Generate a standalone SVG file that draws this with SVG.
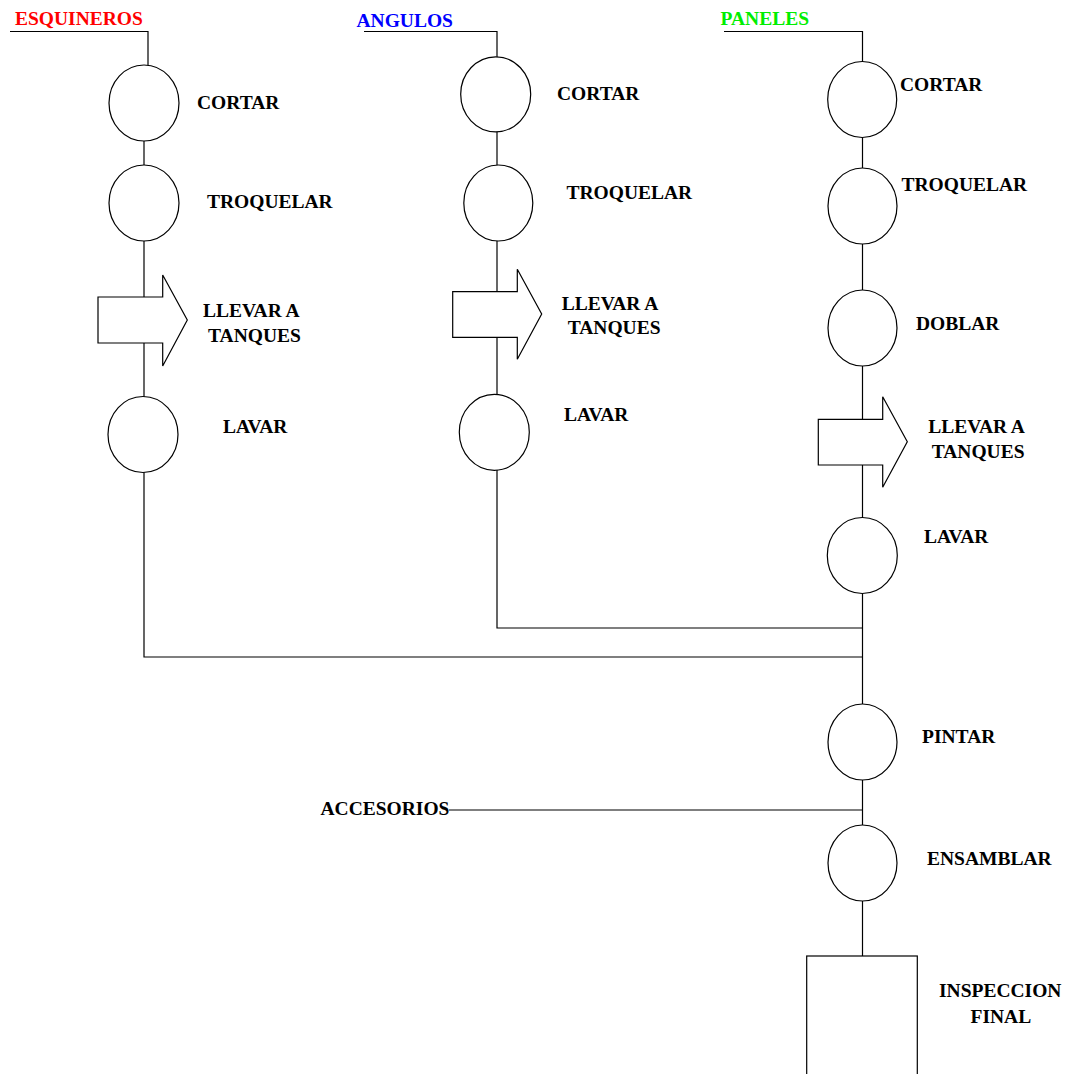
<svg xmlns="http://www.w3.org/2000/svg" width="1067" height="1074" viewBox="0 0 1067 1074">
  <style>
    .op { fill: #ffffff; stroke: #000000; stroke-width: 1.2; }
    .ln { fill: none; stroke: #000000; stroke-width: 1.2; }
    .lbl { font-family: "Liberation Serif", "Times New Roman", serif; font-weight: bold; font-size: 19.5px; fill: #000000; }
  </style>
  <rect x="0" y="0" width="1067" height="1074" fill="#ffffff"/>

  <!-- flow lines -->
  <g id="connectors">
    <!-- ESQUINEROS line -->
    <polyline class="ln" points="10,31.5 148,31.5 148,65"/>
    <line class="ln" x1="144" y1="141" x2="144" y2="165"/>
    <line class="ln" x1="144" y1="241" x2="144" y2="397"/>
    <polyline class="ln" points="144,472 144,657 862.5,657"/>
    <!-- ANGULOS line -->
    <polyline class="ln" points="364,31.5 497,31.5 497,57"/>
    <line class="ln" x1="497" y1="132" x2="497" y2="165"/>
    <line class="ln" x1="497" y1="241" x2="497" y2="394.5"/>
    <polyline class="ln" points="497,470 497,628 862.5,628"/>
    <!-- PANELES line -->
    <polyline class="ln" points="724,31.5 862.5,31.5 862.5,62"/>
    <line class="ln" x1="862.5" y1="137" x2="862.5" y2="168"/>
    <line class="ln" x1="862.5" y1="244" x2="862.5" y2="290"/>
    <line class="ln" x1="862.5" y1="366" x2="862.5" y2="518"/>
    <line class="ln" x1="862.5" y1="593" x2="862.5" y2="704"/>
    <line class="ln" x1="862.5" y1="780" x2="862.5" y2="825"/>
    <line class="ln" x1="862.5" y1="901" x2="862.5" y2="956"/>
    <!-- ACCESORIOS feed -->
    <line class="ln" x1="449" y1="810" x2="862.5" y2="810"/>
  </g>

  <!-- ESQUINEROS column -->
  <g id="esquineros">
    <text class="lbl" x="15" y="25" fill="#ff0000" style="fill:#ff0000">ESQUINEROS</text>
  </g>
  <g id="esq-cortar">
    <ellipse class="op" cx="144" cy="103" rx="35" ry="38"/>
    <text class="lbl" x="197" y="109">CORTAR</text>
  </g>
  <g id="esq-troquelar">
    <ellipse class="op" cx="144" cy="203" rx="35" ry="38"/>
    <text class="lbl" x="207" y="208">TROQUELAR</text>
  </g>
  <g id="esq-llevar">
    <polygon class="op" points="98,297 162.7,297 162.7,275 187.3,320 162.7,366 162.7,343 98,343"/>
    <text class="lbl" x="203" y="316.7">LLEVAR A</text>
    <text class="lbl" x="208" y="341.7">TANQUES</text>
  </g>
  <g id="esq-lavar">
    <ellipse class="op" cx="143" cy="434.5" rx="35" ry="38"/>
    <text class="lbl" x="223" y="433">LAVAR</text>
  </g>

  <!-- ANGULOS column -->
  <g id="angulos">
    <text class="lbl" x="356.5" y="26.5" style="fill:#0000ff">ANGULOS</text>
  </g>
  <g id="ang-cortar">
    <ellipse class="op" cx="495.7" cy="94.3" rx="35" ry="37.5"/>
    <text class="lbl" x="557" y="100">CORTAR</text>
  </g>
  <g id="ang-troquelar">
    <ellipse class="op" cx="498.3" cy="203" rx="34.5" ry="38"/>
    <text class="lbl" x="566.5" y="199">TROQUELAR</text>
  </g>
  <g id="ang-llevar">
    <polygon class="op" points="452.7,291.7 517.3,291.7 517.3,269.3 541.7,314 517.3,359.3 517.3,337.3 452.7,337.3"/>
    <text class="lbl" x="561.7" y="310">LLEVAR A</text>
    <text class="lbl" x="567.7" y="334">TANQUES</text>
  </g>
  <g id="ang-lavar">
    <ellipse class="op" cx="494.3" cy="432.3" rx="35" ry="38"/>
    <text class="lbl" x="564" y="421">LAVAR</text>
  </g>

  <!-- PANELES column -->
  <g id="paneles">
    <text class="lbl" x="720.5" y="25" style="fill:#00ee00">PANELES</text>
  </g>
  <g id="pan-cortar">
    <ellipse class="op" cx="862.2" cy="99.5" rx="34.5" ry="38"/>
    <text class="lbl" x="900" y="90.7">CORTAR</text>
  </g>
  <g id="pan-troquelar">
    <ellipse class="op" cx="862.5" cy="206" rx="34.5" ry="38"/>
    <text class="lbl" x="901.5" y="190.7">TROQUELAR</text>
  </g>
  <g id="pan-doblar">
    <ellipse class="op" cx="862.5" cy="328" rx="34.5" ry="38"/>
    <text class="lbl" x="916" y="330">DOBLAR</text>
  </g>
  <g id="pan-llevar">
    <polygon class="op" points="818.3,419.3 882.7,419.3 882.7,396.7 907.3,441.7 882.7,487.3 882.7,465 818.3,465"/>
    <text class="lbl" x="928.3" y="433.3">LLEVAR A</text>
    <text class="lbl" x="931.7" y="458.3">TANQUES</text>
  </g>
  <g id="pan-lavar">
    <ellipse class="op" cx="862.3" cy="555.5" rx="35" ry="38"/>
    <text class="lbl" x="924" y="543.3">LAVAR</text>
  </g>

  <!-- common line -->
  <g id="pintar">
    <ellipse class="op" cx="862.5" cy="742" rx="34.5" ry="38"/>
    <text class="lbl" x="922" y="743">PINTAR</text>
  </g>
  <g id="accesorios">
    <text class="lbl" x="320.5" y="815">ACCESORIOS</text>
  </g>
  <g id="ensamblar">
    <ellipse class="op" cx="862.5" cy="863" rx="34.5" ry="38"/>
    <text class="lbl" x="927" y="865">ENSAMBLAR</text>
  </g>
  <g id="inspeccion-final">
    <rect class="op" x="806.7" y="956" width="110.6" height="130"/>
    <text class="lbl" x="939" y="996.7">INSPECCION</text>
    <text class="lbl" x="970.5" y="1022.7">FINAL</text>
  </g>
</svg>
